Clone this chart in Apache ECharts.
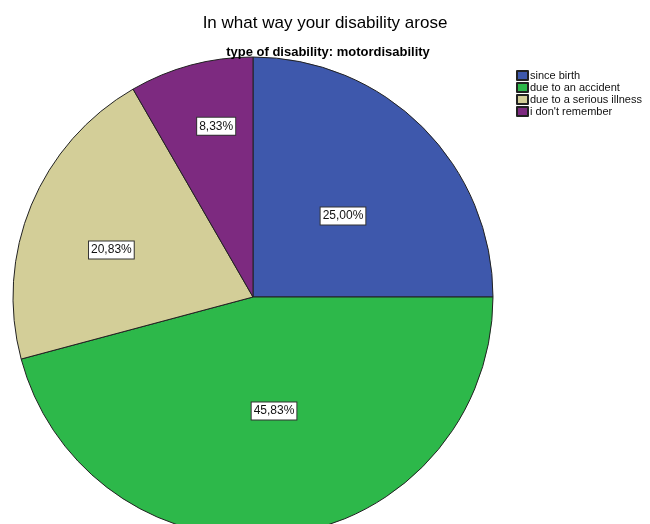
<!DOCTYPE html>
<html>
<head>
<meta charset="utf-8">
<script src="https://cdn.jsdelivr.net/npm/echarts@6/dist/echarts.min.js"></script>
<style>
html,body{margin:0;padding:0;background:#fff;}
#chart{width:650px;height:524px;}
</style>
</head>
<body>
<div id="chart"></div>
<script>
const categories = ["since birth", "due to an accident", "due to a serious illness", "i don't remember"];
const percentValues = [25.00, 45.83, 20.83, 8.33];
const sliceColors = ["#3e58ac", "#2db84a", "#d3ce98", "#7d2a80"];
const labelShift = [[3, 6], [5, -8], [-28, 0], [-5, -52]];

const chart = echarts.init(document.getElementById('chart'));
const data = categories.map((name, i) => ({
  name: name,
  value: percentValues[i],
  itemStyle: { color: sliceColors[i] }
}));

chart.setOption({
  animation: false,
  backgroundColor: '#ffffff',
  title: [
    {
      text: 'In what way your disability arose',
      left: 320, top: 10, textAlign: 'center',
      textStyle: { fontFamily: 'Liberation Sans, Arial', fontSize: 17, fontWeight: 'normal', color: '#000' }
    },
    {
      text: 'type of disability: motordisability',
      left: 323, top: 41, textAlign: 'center',
      textStyle: { fontFamily: 'Liberation Sans, Arial', fontSize: 13, fontWeight: 'bold', color: '#000' }
    }
  ],
  legend: {
    orient: 'vertical',
    left: 511, top: 65,
    itemWidth: 11, itemHeight: 9, itemGap: 1,
    icon: 'rect',
    textStyle: { fontFamily: 'Liberation Sans, Arial', fontSize: 11, lineHeight: 11, color: '#111', padding: [0,0,0,-3] },
    data: categories
  },
  series: [{
    type: 'pie',
    center: [253, 297],
    radius: 240,
    startAngle: 90,
    clockwise: true,
    avoidLabelOverlap: false,
    itemStyle: { borderColor: '#222', borderWidth: 1 },
    label: {
      show: true,
      position: 'inside',
      formatter: p => p.value.toFixed(2).replace('.', ',') + '%',
      fontFamily: 'Liberation Sans, Arial',
      fontSize: 12,
      color: '#111',
      backgroundColor: '#fff',
      borderColor: '#333',
      borderWidth: 1,
      padding: [3, 2, 2, 2]
    },
    labelLine: { show: false },
    labelLayout: p => ({ dx: labelShift[p.dataIndex][0], dy: labelShift[p.dataIndex][1] }),
    emphasis: { disabled: true },
    data: data
  }]
});
</script>
</body>
</html>
